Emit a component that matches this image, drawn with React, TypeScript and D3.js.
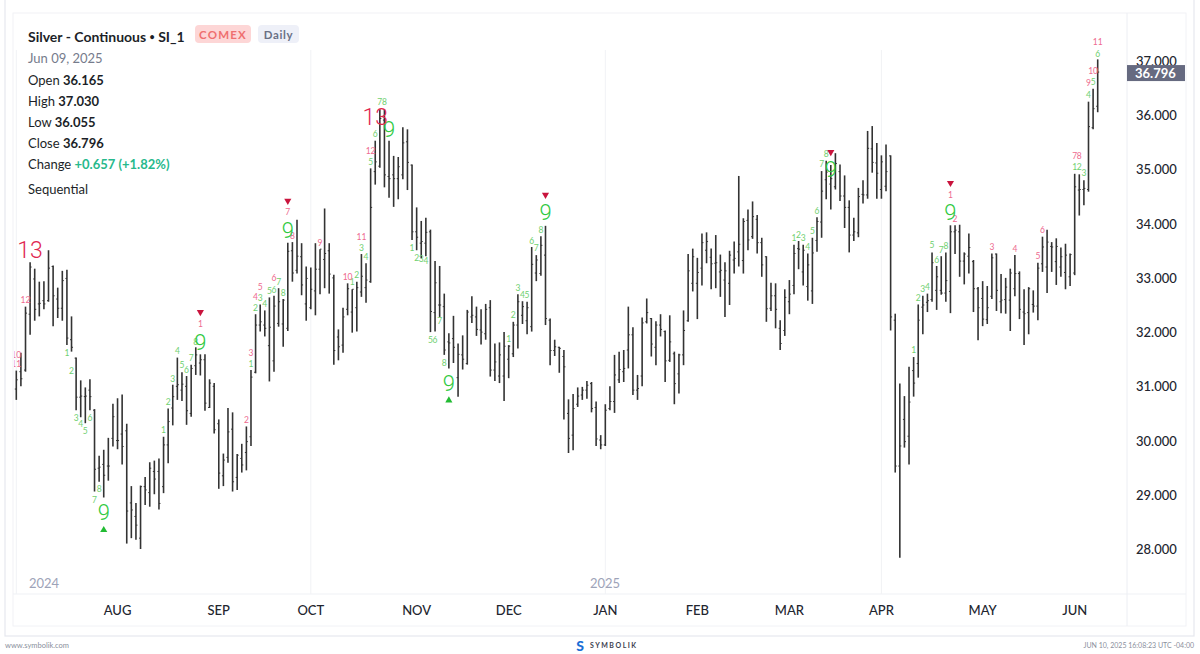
import React from "react";
import * as d3 from "d3";

const highs = [
31.29,31.62,32.47,33.29,33.17,32.93,32.94,33.51,33.23,32.82,33.13,33.15,32.29,31.53,31.11,30.98,31.13,30.58,29.72,29.83,
30.05,30.68,30.78,30.85,30.31,29.16,28.85,29.17,29.33,29.6,29.63,29.67,30.07,30.59,31.03,31.53,31.26,31.19,31.4,31.72,
31.59,31.59,31.13,31.06,30.39,29.76,30.6,30.52,29.75,29.94,30.26,31.3,32.33,32.51,32.4,32.64,32.67,32.81,32.61,33.65,
33.66,34.07,33.64,33.21,33.19,33.64,33.53,34.28,33.64,33.06,32.05,32.45,32.9,32.79,32.93,33.44,33.27,35.02,35.53,36.11,
36.11,35.53,35.25,35.23,35.78,35.74,35.09,34.3,34.05,34.11,33.89,33.31,33.22,32.71,31.98,32.3,31.79,31.94,32.41,32.66,
32.47,32.42,32.52,32.59,31.79,31.81,32.0,31.76,32.19,32.7,32.57,32.56,33.57,33.42,33.77,33.96,32.25,31.86,31.73,31.67,
30.76,30.86,30.98,30.99,31.1,31.08,30.72,30.1,30.67,31.0,31.58,31.64,31.67,32.47,32.09,31.21,32.27,32.62,32.26,32.2,
32.33,32.03,32.31,31.64,31.6,32.4,33.44,33.54,33.37,33.82,33.84,33.54,33.79,33.43,33.29,33.5,33.67,34.88,34.1,34.26,
34.41,34.16,33.74,33.4,32.91,32.9,32.22,32.79,32.96,33.61,33.68,33.61,33.45,33.74,34.12,34.97,35.16,35.08,35.3,35.09,
34.89,34.43,34.11,34.66,34.8,35.71,35.8,35.49,35.26,35.46,35.26,32.34,31.05,30.82,31.36,31.54,32.51,32.67,32.71,33.47,
33.22,33.4,33.47,33.97,33.97,33.98,33.47,33.82,33.33,32.83,32.94,32.85,33.45,33.45,33.07,33.0,33.17,33.42,33.12,32.79,
32.83,32.77,33.28,33.76,33.89,33.66,33.73,33.56,33.63,33.45,34.92,34.91,34.8,36.25,36.49,37.03];

const lows = [
30.75,31.0,31.27,31.95,32.21,32.29,32.42,32.56,32.11,32.26,32.21,31.76,31.64,30.56,30.43,30.32,30.56,29.06,29.24,28.95,
29.26,29.89,29.84,29.56,28.10,28.20,28.17,28.0,28.81,28.78,29.01,28.73,29.03,29.58,30.28,30.75,30.73,30.29,30.44,31.21,
31.2,30.55,30.6,30.13,29.11,29.16,29.59,29.06,29.09,29.41,29.45,29.9,31.24,32.01,31.92,31.09,31.27,32.1,31.73,32.02,
32.93,33.08,32.68,32.21,32.42,32.31,32.7,32.81,32.71,31.4,31.48,31.62,32.31,31.99,32.01,32.65,32.54,32.91,34.72,35.03,
34.67,34.48,34.31,34.45,34.82,34.62,33.7,33.51,33.36,33.4,32.0,32.01,32.28,31.58,31.33,31.43,30.81,31.31,31.4,32.17,
31.93,31.77,31.86,31.18,31.1,31.06,30.73,31.15,31.54,31.7,32.15,31.96,32.01,32.94,33.04,32.13,31.39,31.56,31.25,30.39,
29.77,29.82,30.62,30.75,30.77,30.52,29.9,29.84,29.9,30.56,30.51,31.06,31.08,31.33,30.84,30.75,31.0,32.16,31.55,31.39,
31.92,31.08,31.45,30.67,30.87,31.39,32.19,32.75,32.24,32.86,33.27,32.79,32.81,32.65,32.28,32.5,33.08,33.21,33.08,33.51,
33.72,33.45,33.02,32.19,32.39,32.07,31.67,31.93,32.33,32.7,33.16,32.86,32.58,32.52,33.48,33.74,34.45,34.26,34.63,34.42,
33.92,33.47,33.68,33.75,34.37,34.46,34.94,34.46,34.46,34.6,32.03,29.41,27.84,29.87,29.56,30.81,31.16,31.96,32.37,32.56,
32.41,32.69,32.56,32.35,33.44,33.02,32.88,33.08,32.37,31.85,32.11,32.15,32.61,32.39,32.35,32.34,32.02,32.66,32.24,31.76,
31.96,32.36,32.22,33.11,32.72,33.11,32.87,33.02,32.79,32.85,33.05,34.15,34.34,34.59,35.74,36.055];

const opens = [
30.95,31.27,31.30,32.33,32.98,32.52,32.58,32.58,33.21,32.61,32.44,32.99,31.86,31.52,30.80,30.81,30.93,30.56,29.49,29.56,
29.53,30.04,30.0,30.12,30.18,28.85,28.6,28.2,29.15,29.04,29.43,29.43,29.15,29.92,30.6,31.0,30.93,31.0,30.5,31.38,
31.43,31.49,30.61,31.0,30.31,29.35,29.69,30.21,29.32,29.67,29.78,30.07,31.26,32.13,32.13,31.75,31.47,32.16,32.15,32.07,
33.5,33.14,33.39,32.52,32.45,32.76,33.16,33.34,33.5,33.0,31.91,31.76,32.42,32.37,32.45,32.74,32.82,32.93,34.96,35.06,
35.91,34.87,34.9,34.83,34.9,35.51,35.08,33.85,33.64,33.64,33.85,32.36,32.5,32.47,31.82,31.88,31.16,31.58,31.42,32.28,
32.28,32.04,31.97,32.45,31.3,31.19,31.19,31.5,31.6,32.13,32.31,32.21,32.1,33.09,33.08,33.42,32.22,31.66,31.72,31.55,
30.5,30.1,30.67,30.84,30.93,31.05,30.61,30.01,29.92,30.59,30.72,31.12,31.27,31.67,31.95,30.93,31.19,32.19,32.25,31.72,
32.13,32.01,31.48,31.6,31.23,31.58,32.21,32.9,32.9,33.18,33.51,33.38,33.27,33.11,32.96,32.9,33.33,33.48,33.32,34.06,
33.76,34.08,33.65,33.39,32.44,32.67,32.07,32.03,32.56,32.86,33.54,33.11,32.84,32.76,33.69,34.03,34.81,34.73,34.68,34.96,
34.51,34.3,33.79,33.83,34.54,34.53,35.38,35.12,34.63,34.69,35.25,32.22,29.53,30.39,30.08,31.29,31.42,32.46,32.55,32.6,
32.77,32.77,32.72,32.75,33.85,33.85,33.31,33.4,33.3,32.8,32.62,32.23,32.66,33.44,32.56,32.6,32.59,32.8,33.08,32.37,
32.36,32.51,32.48,33.26,33.2,33.58,33.3,33.2,33.1,33.02,33.09,34.62,34.63,34.63,35.77,36.165];

const closes = [
31.12,31.14,32.35,33.20,32.42,32.53,32.52,33.18,32.67,32.44,32.95,31.89,31.72,30.80,30.82,30.82,30.81,29.47,29.51,29.36,
29.53,30.44,30.0,29.89,28.70,28.72,28.44,29.15,29.09,29.49,29.29,28.84,29.92,30.35,30.81,31.03,31.04,30.55,31.33,31.58,
31.49,30.69,31.06,30.2,29.4,29.64,30.16,29.24,29.73,29.55,29.98,31.17,32.13,32.19,32.07,32.09,32.48,32.56,32.59,33.49,
33.09,33.40,32.87,32.99,32.79,33.16,33.53,33.45,33.07,31.66,31.73,32.28,32.8,32.79,32.82,33.03,32.96,34.3,35.14,35.94,
34.9,34.83,34.83,35.05,35.49,35.13,33.85,33.75,33.67,33.84,32.38,32.91,32.5,31.67,31.8,31.72,31.59,31.5,32.37,32.31,
32.05,32.0,32.42,31.3,31.45,31.58,31.74,31.74,32.13,32.56,32.47,32.45,33.25,33.33,33.6,32.25,31.66,31.73,31.7,31.36,
30.04,30.59,30.82,30.93,31.02,30.59,30.03,29.92,30.56,30.72,31.21,31.31,31.33,31.95,30.93,30.96,32.17,32.36,31.78,32.13,
32.05,31.47,31.82,31.05,31.58,32.03,33.13,33.39,33.1,33.65,33.67,33.26,33.28,33.14,33.13,33.42,33.36,33.62,34.04,33.7,
34.13,33.65,33.24,32.43,32.67,32.42,31.79,32.64,32.7,33.45,33.53,33.51,33.24,33.46,34.04,34.6,34.95,34.83,35.11,34.51,
34.3,33.79,33.85,34.5,34.53,35.39,35.13,34.93,35.14,34.96,32.28,29.53,29.9,29.98,30.71,31.06,32.22,32.5,32.58,33.28,
33.02,32.72,32.95,33.85,33.88,33.31,33.44,33.56,32.8,32.45,32.24,32.45,33.37,32.77,32.59,32.83,33.09,33.08,32.42,32.34,
32.8,32.48,33.18,33.57,33.66,33.57,33.58,33.39,33.42,33.43,34.68,34.63,34.65,35.79,36.12,36.796];

type Seq = [number, string, number];

const greenCounts: Seq[] = [
[11,"1",31.61],[12,"2",31.28],[13,"3",30.41],[14,"4",30.3],[15,"5",30.17],[16,"6",30.41],[17,"7",28.9],[18,"8",29.1],
[32,"1",30.19],[33,"2",30.71],[34,"3",31.13],[35,"4",31.65],[36,"5",31.39],[37,"6",31.3],[38,"7",31.52],[39,"8",31.81],
[51,"1",31.41],[52,"2",32.44],[53,"3",32.63],[54,"4",32.52],[55,"5",32.76],[56,"6",32.78],[57,"7",32.92],[58,"8",32.72],
[73,"1",32.92],[74,"2",33.05],[75,"3",33.55],[76,"4",33.38],[77,"5",35.14],[78,"6",35.65],[79,"7",36.24],[80,"8",36.24],
[86,"1",33.55],[87,"2",33.36],[88,"3",33.35],[89,"4",33.31],[90,"5",31.85],[91,"6",31.85],[92,"7",32.2],[93,"8",31.43],
[107,"1",31.87],[108,"2",32.31],[109,"3",32.81],[110,"4",32.68],[111,"5",32.68],[112,"6",33.68],[113,"7",33.55],[114,"8",33.88],
[169,"1",33.73],[170,"2",33.79],[171,"3",33.73],[172,"4",33.57],[173,"5",33.86],[174,"6",34.23],[175,"7",35.1],[176,"8",35.29],
[195,"1",31.67],[196,"2",32.63],[197,"3",32.79],[198,"4",32.83],[199,"5",33.6],[200,"6",33.33],[201,"7",33.51],[202,"8",33.59],
[230,"1",35.04],[231,"2",35.04],[232,"3",34.93],[233,"4",36.37],[234,"5",36.61],[235,"6",37.13]];

const pinkCounts: Seq[] = [
[0,"10",31.58],[0,"11",31.41],[2,"12",32.59],
[40,"1",32.15],[50,"2",30.38],[51,"3",31.61],[52,"4",32.65],[53,"5",32.83],[56,"6",33.0],[59,"7",34.21],[60,"8",33.77],
[66,"9",33.64],[72,"10",33.02],[75,"11",33.75],[77,"12",35.34],
[203,"1",34.53],[204,"2",34.08],[212,"3",33.57],[217,"4",33.53],[222,"5",33.4],[223,"6",33.88],
[230,"7",35.25],[231,"8",35.25],[233,"9",36.59],[234,"10",36.82],[235,"11",37.35]];

const nines: Seq[] = [[19,"9",28.68],[40,"9",31.81],[59,"9",33.88],[81,"9",35.74],[94,"9",31.06],[115,"9",34.2],[177,"9",34.99],[203,"9",34.2]];
const thirteens: Seq[] = [[3,"13",33.51],[78,"13",35.95]];
const arrowsUp: [number, number][] = [[19,28.35],[94,30.74]];
const arrowsDown: [number, number][] = [[40,32.37],[59,34.42],[115,34.53],[177,35.32],[203,34.75]];

const priceTicks = [37,36,35,34,33,32,31,30,29,28];
const monthLabels = ["AUG","SEP","OCT","NOV","DEC","JAN","FEB","MAR","APR","MAY","JUN"];
const monthBars = [22,44,64,87,107,128,148,168,188,210,230];
const gridBars = [0,64,128,188];
const infoRows: [string, string, number][] = [["Open","36.165",80],["High","37.030",101],["Low","36.055",122],["Close","36.796",143]];

const W = 1200, H = 654;
const FONT = "Lato, 'Noto Sans', sans-serif";
const x = d3.scaleLinear().domain([0, highs.length - 1]).range([16.3, 1097.7]);
const y = d3.scaleLinear().domain([37, 28]).range([61, 549]);
const tri = d3.symbol().type(d3.symbolTriangle).size(22)() as string;
const last = closes[closes.length - 1];

export default function App() {
  const barColor = "#333333";
  return (
    <svg width={W} height={H} viewBox={`0 0 ${W} ${H}`}
      style={{ position: "absolute", left: 0, top: 0, background: "#fff", fontFamily: FONT }}>
      <defs>
        <clipPath id="plot"><rect x={14} y={14} width={1113} height={580} /></clipPath>
      </defs>
      <rect x={5} y={-2} width={1189} height={638} fill="none" stroke="#e6e8ee" strokeWidth={1.2} />
      <rect x={13} y={13} width={1173} height={613} fill="none" stroke="#f1f2f6" />
      <line x1={13} x2={1186} y1={594} y2={594} stroke="#eff1f5" />
      <line x1={1127} x2={1127} y1={13} y2={626} stroke="#eceef3" />
      {gridBars.map(b => (
        <line key={b} x1={x(b)} x2={x(b)} y1={50} y2={594} stroke="#f1f2f5" />
      ))}

      {/* OHLC bars */}
      <g stroke={barColor} fill="none">
        {highs.map((h, i) => (
          <g key={i}>
            <line x1={x(i)} x2={x(i)} y1={y(h)} y2={y(lows[i])} strokeWidth={1.6} />
            <line x1={x(i) - 1.5} x2={x(i)} y1={y(opens[i])} y2={y(opens[i])} strokeWidth={1} />
            <line x1={x(i)} x2={x(i) + 1.5} y1={y(closes[i])} y2={y(closes[i])} strokeWidth={1} />
          </g>
        ))}
      </g>

      <g clipPath="url(#plot)" textAnchor="middle" dominantBaseline="central">
        {greenCounts.map(([b, t, p], i) => (
          <text key={i} x={x(b)} y={y(p)} fontSize={8.5} fill="#6fd070">{t}</text>
        ))}
        {pinkCounts.map(([b, t, p], i) => (
          <text key={i} x={x(b)} y={y(p)} fontSize={8.5} fill="#ee6a8f">{t}</text>
        ))}
        {nines.map(([b, t, p], i) => (
          <text key={i} x={x(b)} y={y(p)} fontSize={22} fontWeight={300} fontFamily="Roboto, sans-serif" fill="#2fc93f">{t}</text>
        ))}
        {thirteens.map(([b, t, p], i) => (
          <text key={i} x={x(b)} y={y(p)} fontSize={23} fontWeight={300} fontFamily="Roboto, sans-serif" fill="#e0264f">{t}</text>
        ))}
        {arrowsUp.map(([b, p], i) => (
          <path key={i} d={tri} transform={`translate(${x(b)},${y(p)})`} fill="#22bb33" />
        ))}
        {arrowsDown.map(([b, p], i) => (
          <path key={i} d={tri} transform={`translate(${x(b)},${y(p)}) rotate(180)`} fill="#c9143d" />
        ))}
      </g>

      {/* Price axis */}
      <g fontSize={13} fontWeight={500} fill="#22252e">
        {priceTicks.map(t => (
          <text key={t} x={1136} y={y(t)} dominantBaseline="central">{d3.format(".3f")(t)}</text>
        ))}
      </g>
      <rect x={1127} y={y(last) - 7} width={58} height={16} fill="#666a80" />
      <text x={1135} y={y(last) + 1} dominantBaseline="central" fontSize={13} fontWeight={700} fill="#fff">
        {d3.format(".3f")(last)}
      </text>

      {/* Time axis */}
      <g fontSize={13} fontWeight={500} fill="#22252e" textAnchor="middle">
        {monthLabels.map((m, i) => (
          <text key={m} x={x(monthBars[i])} y={610} dominantBaseline="central">{m}</text>
        ))}
      </g>
      <text x={44} y={583} fontSize={13} fill="#9da3b8" textAnchor="middle" dominantBaseline="central">2024</text>
      <text x={605} y={583} fontSize={13} fill="#9da3b8" textAnchor="middle" dominantBaseline="central">2025</text>

      {/* Header */}
      <text x={28} y={36} fontSize={14} fontWeight={700} fill="#1c1f28" dominantBaseline="central">Silver - Continuous <tspan fontSize={9}>•</tspan> SI_1</text>
      <rect x={195} y={25} width={56} height={18} rx={4} fill="#fdd6d6" />
      <text x={223} y={34.5} fontSize={11.5} fontWeight={700} letterSpacing={1.2} fill="#ef6f6f" textAnchor="middle" dominantBaseline="central">COMEX</text>
      <rect x={258} y={25} width={41} height={18} rx={4} fill="#eef0f8" />
      <text x={278.5} y={34.5} fontSize={11.5} fontWeight={700} letterSpacing={0.6} fill="#6a7085" textAnchor="middle" dominantBaseline="central">Daily</text>
      <text x={28} y={58} fontSize={13} fill="#767b8c" dominantBaseline="central">Jun 09, 2025</text>
      {infoRows.map(([k, v, py]) => (
        <text key={k} x={28} y={py} fontSize={13} fill="#1c1f28" dominantBaseline="central">
          {k} <tspan fontWeight={700}>{v}</tspan>
        </text>
      ))}
      <text x={28} y={164} fontSize={13} fill="#1c1f28" dominantBaseline="central">
        Change <tspan fontWeight={700} fill="#27b98c">+0.657 (+1.82%)</tspan>
      </text>
      <text x={28} y={189} fontSize={13} fill="#1c1f28" dominantBaseline="central">Sequential</text>

      {/* Footer */}
      <text x={5} y={645} fontSize={7.5} fill="#8a8f9c" dominantBaseline="central">www.symbolik.com</text>
      <text x={580} y={645} fontSize={14} fontWeight={900} fill="#1b6fd6" textAnchor="middle" dominantBaseline="central">S</text>
      <text x={590} y={645} fontSize={7} fontWeight={700} letterSpacing={1.5} fill="#3c4150" dominantBaseline="central">SYMBOLIK</text>
      <text x={1194} y={645} fontSize={7} fill="#8a8f9c" textAnchor="end" dominantBaseline="central">JUN 10, 2025 16:08:23 UTC -04:00</text>
    </svg>
  );
}
